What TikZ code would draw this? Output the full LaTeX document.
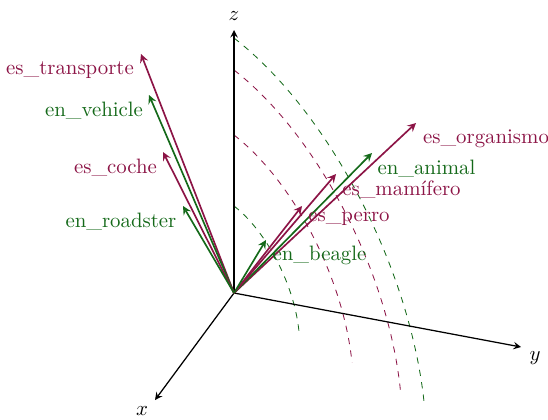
\documentclass[tikz,border=0pt]{standalone}
\usepackage{tikz}
\usetikzlibrary{arrows.meta}

\definecolor{mypurple}{RGB}{140,20,70}
\definecolor{mygreen}{RGB}{20,105,25}

\begin{document}
\begin{tikzpicture}[x=0.48pt, y=-0.48pt, >=stealth]
    \useasboundingbox (0,0) rectangle (548,419);
    \tikzset{
        axis/.style={->, semithick, black},
        vec/.style={-stealth, thick},
        arcline/.style={dashed, thin},
        lbl/.style={anchor=base, inner sep=0pt}
    }

    \coordinate (O) at (234,293);

    % dashed arcs
    \begin{scope}[shift={(O)}, x={(0.362pt,-0.282pt)}, y={(0pt,0.48pt)}]
        \foreach \r/\c in {87/mygreen, 158/mypurple, 223/mypurple, 255/mygreen}
            \draw[arcline, \c] (0,\r) arc[start angle=90, end angle=8, radius=\r];
    \end{scope}

    % axes
    \coordinate (xend) at (155,400);
    \coordinate (yend) at (521,347);
    \coordinate (zend) at (234,30);
    \draw[axis] (O) -- (xend);
    \draw[axis] (O) -- (yend);
    \draw[axis] (O) -- (zend);
    \node (xl) at (142,411) {\(x\)};
    \node (yl) at (535,358) {\(y\)};
    \node (zl) at (234,16) {\(z\)};

    % word vectors
    \coordinate (transporte) at (141,54);
    \coordinate (vehicle) at (149,95);
    \coordinate (coche) at (163,152);
    \coordinate (roadster) at (183,206);
    \coordinate (organismo) at (416,123);
    \coordinate (animal) at (372,153);
    \coordinate (mamifero) at (336,174);
    \coordinate (perro) at (302,206);
    \coordinate (beagle) at (266,240);

    \draw[vec, mypurple] (O) -- (transporte);
    \draw[vec, mygreen] (O) -- (vehicle);
    \draw[vec, mypurple] (O) -- (coche);
    \draw[vec, mygreen] (O) -- (roadster);
    \draw[vec, mypurple] (O) -- (organismo);
    \draw[vec, mygreen] (O) -- (animal);
    \draw[vec, mypurple] (O) -- (mamifero);
    \draw[vec, mypurple] (O) -- (perro);
    \draw[vec, mygreen] (O) -- (beagle);

    % labels
    \node[lbl, mypurple] (ltransporte) at (70,74) {es\_transporte};
    \node[lbl, mygreen] (lvehicle) at (94,116) {en\_vehicle};
    \node[lbl, mypurple] (lcoche) at (115.5,173) {es\_coche};
    \node[lbl, mygreen] (lroadster) at (121,227) {en\_roadster};
    \node[lbl, mypurple] (lorganismo) at (486,143.5) {es\_organismo};
    \node[lbl, mygreen] (lanimal) at (426.5,174.5) {en\_animal};
    \node[lbl, mypurple] (lmamifero) at (401.5,195.5) {es\_mamífero};
    \node[lbl, mypurple] (lperro) at (349,221.5) {es\_perro};
    \node[lbl, mygreen] (lbeagle) at (319.5,260.5) {en\_beagle};
\end{tikzpicture}
\end{document}
